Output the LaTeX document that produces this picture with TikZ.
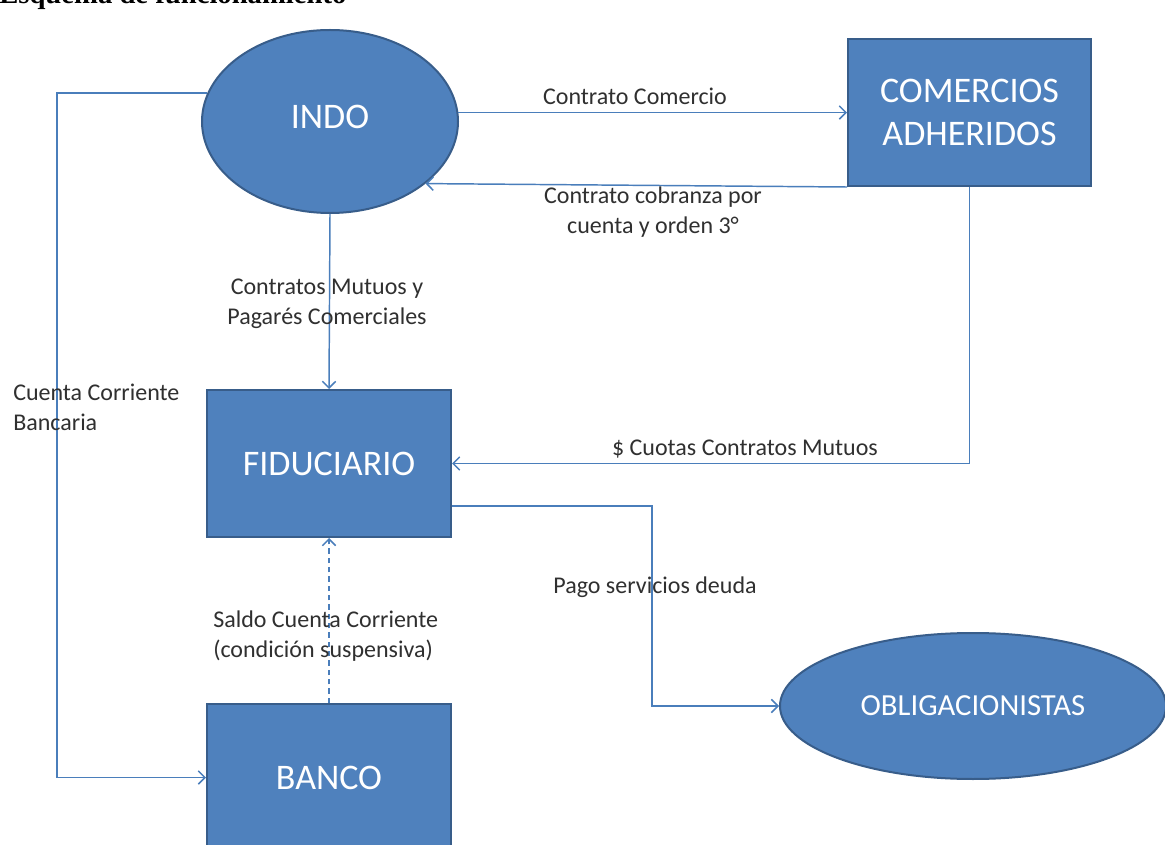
\documentclass[tikz,border=0pt]{standalone}
\usepackage{fontspec}
\setmainfont{Carlito}
\newfontfamily\titlefont{Liberation Serif}
\usetikzlibrary{shapes.geometric,arrows.meta}
\definecolor{boxfill}{HTML}{4F81BD}
\definecolor{boxdraw}{HTML}{385D8A}
\definecolor{linecol}{HTML}{4A7EBB}
\definecolor{labcol}{HTML}{303030}
\begin{document}
\begin{tikzpicture}[x=0.75pt,y=-0.75pt,
  shapebox/.style={rectangle,fill=boxfill,draw=boxdraw,line width=1.5pt,inner sep=0pt,
    text=white,font=\fontsize{27}{32}\selectfont,align=center,
    minimum width=183pt,minimum height=110.25pt},
  shapeell/.style={ellipse,fill=boxfill,draw=boxdraw,line width=1.5pt,inner sep=0pt,
    text=white,font=\fontsize{27}{32}\selectfont,align=center},
  lab/.style={text=labcol,font=\fontsize{18}{22.5}\selectfont,inner sep=0pt},
  conn/.style={draw=linecol,line width=1.1pt,-{Straight Barb[length=5pt,width=10pt,line width=1.1pt]}}
]
\useasboundingbox (0,0) rectangle (1165,845);
\clip (0,0) rectangle (1165,845);
\fill[white] (0,0) rectangle (1165,845);

\node[anchor=base west,inner sep=0pt,font=\titlefont\bfseries\fontsize{21.5}{24}\selectfont] (title) at (-1,4) {Esquema de funcionamiento};

\node[shapeell,minimum width=192pt,minimum height=137.25pt] (indo) at (330,121.5) {\raisebox{7pt}{INDO}};
\node[shapebox,minimum width=182.25pt] (com) at (969.5,112.5) {COMERCIOS\\ADHERIDOS};
\node[shapebox] (fid) at (329,463.5) {FIDUCIARIO};
\node[shapebox] (ban) at (329,777.5) {BANCO};
\node[shapeell,minimum width=289.5pt,minimum height=109.5pt,font=\fontsize{23}{28}\selectfont] (obl) at (973,706) {OBLIGACIONISTAS};

\coordinate (k1) at (652,506);
\coordinate (k2) at (57,94);

\draw[conn] (indo.4) -- (indo.4 -| com.west);
\draw[conn] (com.south west) -- (indo.-33);
\draw[conn] (indo.south) -- (fid.north);
\draw[conn] (com.south) |- (fid.east);
\draw[conn] (fid.east |- k1) -- (k1) |- (obl.west);
\draw[conn,dashed,dash pattern=on 4pt off 3pt] (ban.north) -- (fid.south);
\draw[conn] (indo.167) -- (indo.167 -| k2) |- (ban.west);

\node[lab] (l1) at (635,96) {Contrato Comercio};
\node[lab,align=center] (l2) at (653,212) {Contrato cobranza por\\cuenta y orden 3°};
\node[lab,align=center] (l3) at (327,304) {Contratos Mutuos y\\Pagarés Comerciales};
\node[lab,align=left,anchor=west] (l4) at (13,407) {Cuenta Corriente\\Bancaria};
\node[lab] (l5) at (745,449) {\$ Cuotas Contratos Mutuos};
\node[lab] (l6) at (655,587) {Pago servicios deuda};
\node[lab,align=left,anchor=west] (l7) at (213,636) {Saldo Cuenta Corriente\\(condición suspensiva)};
\end{tikzpicture}
\end{document}
